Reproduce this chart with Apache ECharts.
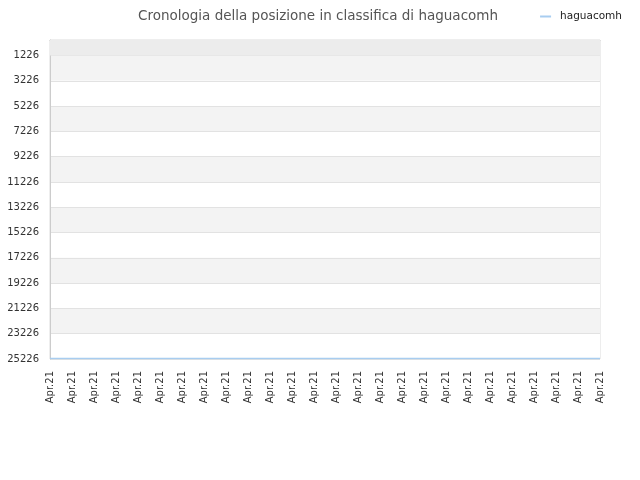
<!DOCTYPE html>
<html>
<head>
<meta charset="utf-8">
<script src="https://cdn.jsdelivr.net/npm/echarts@6/dist/echarts.min.js"></script>
<style>html,body{margin:0;padding:0;background:#fff}#c{width:640px;height:480px}</style>
</head>
<body>
<div id="c"></div>
<script>
var categories = ["Apr.21","Apr.21","Apr.21","Apr.21","Apr.21","Apr.21","Apr.21","Apr.21","Apr.21","Apr.21","Apr.21","Apr.21","Apr.21","Apr.21","Apr.21","Apr.21","Apr.21","Apr.21","Apr.21","Apr.21","Apr.21","Apr.21","Apr.21","Apr.21","Apr.21","Apr.21"];
var rankValues = [25190,25190,25190,25190,25190,25190,25190,25190,25190,25190,25190,25190,25190,25190,25190,25190,25190,25190,25190,25190,25190,25190,25190,25190,25190,25190];
var yTicks = [1226,3226,5226,7226,9226,11226,13226,15226,17226,19226,21226,23226,25226];
var yMin = 0;
var seriesName = "haguacomh";
var titleText = "Cronologia della posizione in classifica di haguacomh";

var chart = echarts.init(document.getElementById('c'), null, {renderer:'canvas'});
chart.setOption({
  animation: false,
  backgroundColor: '#fff',
  title: {
    text: titleText, left: 133, top: 4,
    textStyle: {fontFamily: 'DejaVu Sans', fontSize: 13.5, fontWeight: 'normal', color: '#555'}
  },
  legend: {
    data: [seriesName], right: 13, top: 6,
    icon: 'rect', itemWidth: 11, itemHeight: 2, itemGap: 6,
    textStyle: {fontFamily: 'DejaVu Sans', fontSize: 10.5, color: '#222', padding: [0,0,0,4]}
  },
  grid: {left: 50, right: 40, top: 40, bottom: 121, show: true, borderColor: '#dcdcdc', borderWidth: 1, backgroundColor: 'transparent'},
  xAxis: {
    type: 'category', data: categories, boundaryGap: false,
    axisLine: {lineStyle: {color: '#ccc'}},
    axisTick: {show: false},
    splitLine: {show: false},
    axisLabel: {rotate: 90, interval: 0, margin: 12, fontFamily: 'DejaVu Sans', fontSize: 10, color: '#333'}
  },
  yAxis: {
    type: 'value', inverse: true,
    min: yMin, max: yTicks[yTicks.length-1],
    axisLine: {show: true, lineStyle: {color: '#ccc'}},
    axisTick: {show: false, customValues: yTicks},
    axisLabel: {
      customValues: yTicks, margin: 11,
      fontFamily: 'DejaVu Sans', fontSize: 10, color: '#333',
      formatter: function(v){ return String(v); }
    },
    splitLine: {show: true, lineStyle: {color: '#e2e2e2'}},
    splitArea: {show: true, areaStyle: {color: ['#f3f3f3', '#ffffff']}}
  },
  series: [{
    name: seriesName, type: 'line', data: rankValues,
    symbol: 'none', lineStyle: {color: '#a8cdf0', width: 1.5}, itemStyle: {color: '#a8cdf0'},
    markArea: {
      silent: true,
      itemStyle: {color: '#ececec'},
      data: [[{yAxis: yMin}, {yAxis: yTicks[0]}]]
    }
  }]
});
</script>
</body>
</html>
